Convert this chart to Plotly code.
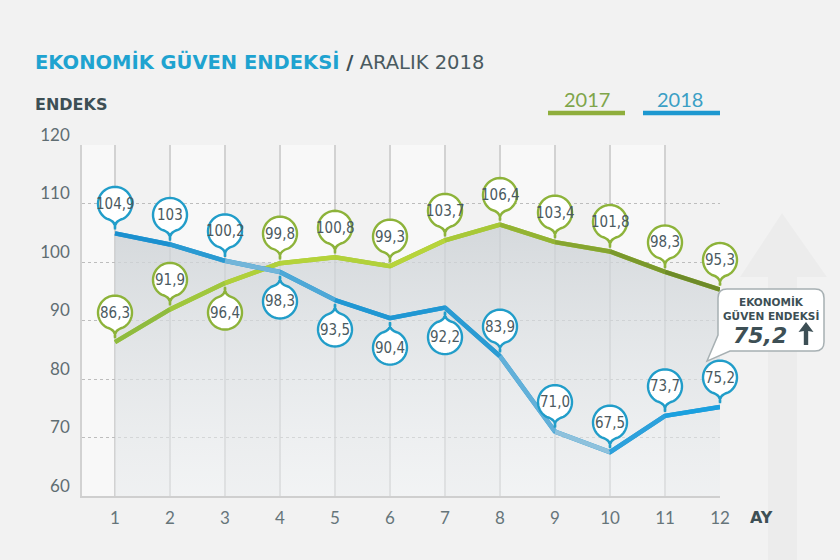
import math
import numpy as np
import plotly.graph_objects as go

# ---------------- data ----------------
months = [1, 2, 3, 4, 5, 6, 7, 8, 9, 10, 11, 12]
month_labels = ["1", "2", "3", "4", "5", "6", "7", "8", "9", "10", "11", "12"]
values_2017 = [86.3, 91.9, 96.4, 99.8, 100.8, 99.3, 103.7, 106.4, 103.4, 101.8, 98.3, 95.3]
values_2018 = [104.9, 103.0, 100.2, 98.3, 93.5, 90.4, 92.2, 83.9, 71.0, 67.5, 73.7, 75.2]
labels_2017 = ["86,3", "91,9", "96,4", "99,8", "100,8", "99,3", "103,7", "106,4", "103,4", "101,8", "98,3", "95,3"]
labels_2018 = ["104,9", "103", "100,2", "98,3", "93,5", "90,4", "92,2", "83,9", "71,0", "67,5", "73,7", "75,2"]
y_ticks = [60, 70, 80, 90, 100, 110, 120]
latest_label = "75,2"

# ---------------- style ----------------
X_RANGE = [0.4, 12]
side_2017 = [1, 1, -1, 1, 1, 1, 1, 1, 1, 1, 1, 1]      # +1 bubble above point, -1 below
side_2018 = [1, 1, 1, -1, -1, -1, -1, 1, 1, 1, 1, 1]
seg_col_2017 = ["#8fbb3e", "#a0c73d", "#b0d03a", "#b5d33a", "#b2d13a", "#b7d43b",
                "#a8c837", "#93b333", "#86a530", "#7a982c", "#6d8a29"]
seg_col_2018 = ["#1b90cf", "#2a9ad2", "#72b5d9", "#4ea8d7", "#2097d3", "#2097d3",
                "#2a9bd3", "#62b0d9", "#8ec1dc", "#2ca1dc", "#1aa0df"]
GREEN_BORDER = "#8db33a"
BLUE_BORDER = "#219dc9"
TXT = "#4b5a5f"
DARK = "#3d4f55"
BUB_FONT = "Liberation Sans Narrow, DejaVu Sans Condensed, Roboto, sans-serif"
WIDE = "DejaVu Sans, sans-serif"

fig = go.Figure()

# upper envelope shading
env = np.maximum(np.array(values_2017), np.array(values_2018))
fig.add_trace(go.Scatter(
    x=months, y=env, mode="lines", line=dict(width=0, color="rgba(0,0,0,0)"),
    fill="tozeroy",
    fillgradient=dict(type="vertical", start=60, stop=106,
                      colorscale=[[0, "rgba(236,239,241,0.5)"], [1, "rgba(205,210,214,0.8)"]]),
    hoverinfo="skip", showlegend=False))

def add_line(vals, cols, base):
    fig.add_trace(go.Scatter(x=months, y=vals, mode="lines",
                             line=dict(color=base, width=4.5), hoverinfo="skip", showlegend=False))
    for i in range(len(vals) - 1):
        fig.add_trace(go.Scatter(x=months[i:i + 2], y=vals[i:i + 2], mode="lines",
                                 line=dict(color=cols[i], width=4.5),
                                 hoverinfo="skip", showlegend=False))

add_line(values_2017, seg_col_2017, "#a3c83d")
add_line(values_2018, seg_col_2018, "#2a9bd3")

shapes = []
annotations = []

def xpaper(m):
    return (m - X_RANGE[0]) / (X_RANGE[1] - X_RANGE[0])

# column shading
for i in range(len(months) - 1):
    if i % 2 == 0:
        shapes.append(dict(type="rect", xref="x", yref="paper", x0=months[i], x1=months[i + 1],
                           y0=0, y1=1, fillcolor="rgba(0,0,0,0.022)", line=dict(width=0),
                           layer="below"))

# faint big arrow in background (right side)
def px2paper(px, py):
    return (px - 82) / 638.0, (496 - py) / 351.0

arrow_pts = [(782, 213), (827, 277), (797, 277), (797, 560), (768, 560), (768, 277), (740, 277)]
p = "M " + " L ".join("%.4f,%.4f" % px2paper(a, b) for a, b in arrow_pts) + " Z"
shapes.append(dict(type="path", xref="paper", yref="paper", path=p,
                   fillcolor="rgba(0,0,0,0.022)", line=dict(width=0), layer="below"))

# bubbles (map-pin shape)
R = 17.0
D = 29.5
T = 4.0
BETA = math.radians(30)
def pin(s):
    jx = R * math.sin(BETA)
    jy = D - R * math.cos(BETA)
    cy = T + (jy - T) * 0.75
    pts = []
    n = 44
    for k in range(n + 1):
        th = BETA + (2 * math.pi - 2 * BETA) * k / n
        pts.append((R * math.sin(th), s * (D - R * math.cos(th))))
    path = "M 0,%.2f Q %.2f,%.2f %.2f,%.2f " % (s * T, -1.5, s * cy, pts[0][0], pts[0][1])
    path += " ".join("L %.2f,%.2f" % q for q in pts[1:])
    path += " Q %.2f,%.2f 0,%.2f Z" % (1.5, s * cy, s * T)
    return path

def add_bubbles(vals, labs, sides, border):
    for m, v, lab, s in zip(months, vals, labs, sides):
        shapes.append(dict(type="path", xref="paper", yref="y", xsizemode="pixel", ysizemode="pixel",
                           xanchor=xpaper(m), yanchor=v, path=pin(s), fillcolor="white",
                           line=dict(color=border, width=2.4), layer="above"))
        annotations.append(dict(x=m, y=v, xref="x", yref="y", text=lab, showarrow=False,
                                yshift=s * D, font=dict(family=BUB_FONT, size=15, color=TXT)))

add_bubbles(values_2017, labels_2017, side_2017, GREEN_BORDER)
add_bubbles(values_2018, labels_2018, side_2018, BLUE_BORDER)

# callout box anchored to last 2018 point
Lb, Rb, Bb, Tb, c = -2.0, 104.0, 56.0, 118.0, 9.0
box = ("M %f,%f L %f,%f Q %f,%f %f,%f L %f,%f Q %f,%f %f,%f L %f,%f L %f,%f L %f,%f "
       "L %f,%f Q %f,%f %f,%f Z") % (
    Lb + c, Tb, Rb - c, Tb, Rb, Tb, Rb, Tb - c, Rb, Bb + c, Rb, Bb, Rb - c, Bb,
    Lb + 12, Bb, -13, 46, Lb, Bb + 16, Lb, Tb - c, Lb, Tb, Lb + c, Tb)
shapes.append(dict(type="path", xref="paper", yref="y", xsizemode="pixel", ysizemode="pixel",
                   xanchor=xpaper(months[-1]), yanchor=values_2018[-1], path=box, fillcolor="white",
                   line=dict(color="#a7b0b3", width=1.5), layer="above"))
# bold up arrow inside box
ax0, ay0 = 86.0, 62.0
arr = [(ax0 - 2.2, ay0), (ax0 + 2.2, ay0), (ax0 + 2.2, ay0 + 14), (ax0 + 7.5, ay0 + 13),
       (ax0, ay0 + 23), (ax0 - 7.5, ay0 + 13), (ax0 - 2.2, ay0 + 14)]
shapes.append(dict(type="path", xref="paper", yref="y", xsizemode="pixel", ysizemode="pixel",
                   xanchor=xpaper(months[-1]), yanchor=values_2018[-1],
                   path="M " + " L ".join("%.1f,%.1f" % q for q in arr) + " Z",
                   fillcolor=DARK, line=dict(width=0), layer="above"))
for txt, ys in [("<b>EKONOMİK</b>", 106), ("<b>GÜVEN ENDEKSİ</b>", 92)]:
    annotations.append(dict(x=months[-1], y=values_2018[-1], xref="x", yref="y", text=txt,
                            showarrow=False, xshift=51, yshift=ys,
                            font=dict(family=WIDE, size=10.5, color=DARK)))
annotations.append(dict(x=months[-1], y=values_2018[-1], xref="x", yref="y",
                        text="<b><i>" + latest_label + "</i></b>", showarrow=False,
                        xshift=40, yshift=72,
                        font=dict(family=WIDE, size=22, color=DARK)))

# legend
for x0, x1, col, tx, tcol, lab in [(548, 625, "#8fae3c", 587, "#7fa54a", "2017"),
                                   (643, 720, "#1d98d0", 680, "#3a9fc5", "2018")]:
    a0 = px2paper(x0, 113)
    a1 = px2paper(x1, 113)
    shapes.append(dict(type="line", xref="paper", yref="paper", x0=a0[0], x1=a1[0], y0=a0[1], y1=a1[1],
                       line=dict(color=col, width=4.5)))
    t = px2paper(tx, 99)
    annotations.append(dict(x=t[0], y=t[1], xref="paper", yref="paper", text=lab, showarrow=False,
                            xanchor="center", yanchor="middle",
                            font=dict(family="Lato, sans-serif", size=20, color=tcol)))

# titles
t = px2paper(33, 62)
annotations.append(dict(x=t[0], y=t[1], xref="paper", yref="paper", xanchor="left", yanchor="middle",
                        showarrow=False,
                        text="<b><span style='color:#1fa3d0'>EKONOMİK GÜVEN ENDEKSİ</span> "
                             "<span style='color:#3d4f55'>/</span></b> ARALIK 2018",
                        font=dict(family=WIDE, size=19.5, color="#4a5a60")))
t = px2paper(33, 104)
annotations.append(dict(x=t[0], y=t[1], xref="paper", yref="paper", xanchor="left", yanchor="middle",
                        showarrow=False, text="<b>ENDEKS</b>",
                        font=dict(family=WIDE, size=16, color=DARK)))
t = px2paper(748, 517)
annotations.append(dict(x=t[0], y=t[1], xref="paper", yref="paper", xanchor="left", yanchor="middle",
                        showarrow=False, text="<b>AY</b>",
                        font=dict(family=WIDE, size=16, color=DARK)))

fig.update_layout(
    width=840, height=560, autosize=False,
    margin=dict(l=82, r=120, t=145, b=64),
    paper_bgcolor="#f2f2f2", plot_bgcolor="#f8f8f8",
    shapes=shapes, annotations=annotations, showlegend=False,
    xaxis=dict(range=X_RANGE, tickvals=months, ticktext=month_labels, showgrid=True,
               gridcolor="#d2d2d2", gridwidth=1.5, showline=True, linecolor="#cfcfcf", linewidth=2,
               ticks="", ticklabelstandoff=6, zeroline=False, fixedrange=True,
               tickfont=dict(family="Lato, sans-serif", size=17, color="#66757a")),
    yaxis=dict(range=[60, 120], tickvals=y_ticks, showgrid=True, gridcolor="#bdbdbd", griddash="dot",
               gridwidth=1.2, showline=True, linecolor="#d2d2d2", linewidth=1.5, ticks="",
               ticklabelstandoff=7, ticklabelshift=-10, zeroline=False, fixedrange=True,
               tickfont=dict(family="Lato, sans-serif", size=17, color="#5f6d72")),
)

fig.write_html("out.html", config={"displayModeBar": False},
               post_script="document.body.style.margin='0px';")
